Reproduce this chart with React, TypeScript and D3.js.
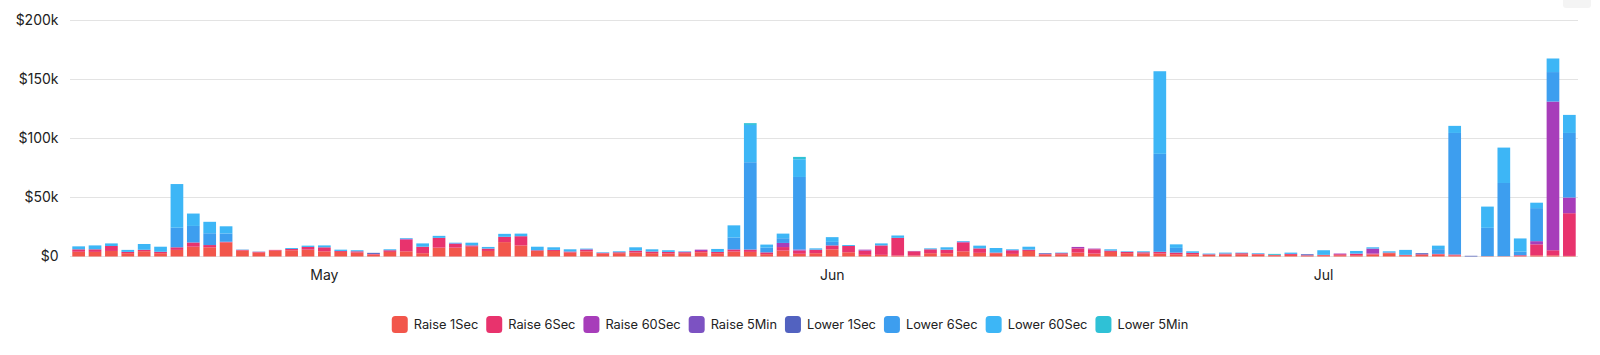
import React from "react";
import * as d3 from "d3";

const startDate = "2023-04-16";
const dayCount = 92;

const seriesNames = ["Raise 1Sec", "Raise 6Sec", "Raise 60Sec", "Raise 5Min", "Lower 1Sec", "Lower 6Sec", "Lower 60Sec", "Lower 5Min"];
const seriesColors = ["#F2564B", "#E8336D", "#A73DBA", "#7C52C2", "#5262C0", "#3D9EEF", "#3DB6F6", "#2FC1D6"];

// values in $k, one per day
const raise1Sec = [4, 3.9, 4.7, 2.8, 4.5, 2.8, 5.6, 8.3, 7.8, 11.9, 5, 3.3, 5, 5.3, 5.8, 4.4, 3.9, 3.3, 1.7, 3.9, 4.4, 2.8, 7.5, 7.5, 8.3, 4.7, 12.2, 9.4, 4.7, 4.7, 3.3, 4.4, 2.5, 2.8, 3.3, 2.8, 2.5, 2.8, 3.6, 2.8, 4.2, 3.9, 2, 5, 2.3, 2.8, 6.1, 3.6, 1.4, 1.4, 0.8, 0.8, 2.8, 2.8, 4.4, 3.1, 2.8, 2.2, 4.7, 1.7, 1.9, 3.3, 2.5, 3.9, 2.8, 2.5, 2.5, 1.9, 1.9, 1.4, 1.7, 1.9, 1.7, 1.1, 1.4, 0.8, 1.1, 1.1, 1.1, 1.7, 2.8, 1.1, 1.4, 1.7, 1, 0, 0.3, 0.3, 0.5, 1, 1, 0.5];
const raise6Sec = [2.1, 2.2, 4.2, 1.1, 1.2, 1.2, 2.2, 3.6, 1.9, 0.6, 0.6, 0.7, 0.6, 1.1, 2.3, 3.4, 0.8, 1.1, 0.5, 1.4, 10, 5.5, 8.3, 3.1, 1.1, 2, 4.5, 7.8, 0.6, 0.9, 0.9, 1.2, 0.6, 0.8, 1.7, 1.4, 1.4, 0.8, 1.1, 1.1, 1.4, 2, 1.5, 3, 2.7, 3, 3.3, 5.3, 3.6, 8, 15, 3.6, 3.3, 3, 7.5, 3.8, 0.5, 2.8, 1.1, 0.5, 0.9, 3.6, 3.6, 1.1, 1.1, 1.1, 1.5, 1.4, 1.2, 0.5, 0.8, 0.9, 0.5, 0.3, 0.8, 0.3, 0.3, 0.8, 1.1, 0.8, 0.5, 0.3, 0.5, 0.5, 0.7, 0, 0, 0, 0.6, 9.3, 4.3, 36.2];
const raise60Sec = [0, 0, 0, 0, 0, 0, 0, 0, 0, 0, 0, 0, 0, 0, 0, 0, 0, 0, 0, 0, 0.6, 0, 0, 0.5, 0, 0, 0, 0, 0, 0, 0, 0.5, 0, 0, 0, 0, 0, 0.4, 1.1, 0, 0.5, 0, 0, 3.5, 0.9, 0, 0, 0, 0.8, 0, 0, 0.3, 0, 0, 0.6, 0, 0, 0.5, 0, 0, 0, 1.2, 0.6, 0, 0, 0, 0, 0, 0, 0, 0, 0, 0, 0, 0, 0, 0, 0.6, 0.3, 4.2, 0, 0, 0, 0, 0, 0, 0, 0, 0, 2.7, 126, 13.3];
const raise5Min = [0, 0, 0, 0, 0, 0, 0, 0, 0, 0, 0, 0, 0, 0, 0, 0, 0, 0, 0, 0, 0, 0, 0, 0, 0, 0, 0, 0, 0, 0, 0, 0, 0, 0, 0, 0, 0, 0, 0, 0, 0, 0, 0, 0, 0, 0, 0, 0, 0, 0, 0, 0, 0, 0, 0, 0, 0, 0, 0, 0, 0, 0, 0, 0, 0, 0, 0, 0, 0, 0, 0, 0, 0, 0, 0, 0, 0, 0, 0, 0, 0, 0, 0, 0, 0, 0, 0, 0, 0, 0, 0, 0];
const lower1Sec = [0, 0, 0, 0, 0, 0, 0, 0, 0, 0, 0, 0, 0, 0, 0, 0, 0, 0, 0.9, 0, 0, 0, 0, 0, 0, 0, 0, 0, 0, 0, 0, 0, 0, 0, 0, 0, 0, 0, 0, 0, 0, 0, 0, 0, 0, 0, 0, 0, 0, 0, 0, 0, 0, 0, 0, 0, 0, 0, 0, 0.6, 0, 0, 0, 0, 0, 0, 0, 0, 0, 0, 0, 0, 0, 0, 0, 0.8, 0, 0, 0, 0, 0, 0, 0.9, 0, 0, 0.6, 0, 0, 0, 0, 0, 0];
const lower6Sec = [0, 0, 0, 0, 0, 0, 16.6, 14, 10, 7, 0, 0, 0, 0, 0, 0, 0, 0, 0, 0, 0, 0, 0, 0, 0, 0, 0, 0, 0, 0, 0, 0, 0, 0, 0, 0, 0, 0, 0, 0, 10, 74, 4, 4, 61.5, 0, 3, 0, 0, 0, 0, 0, 0, 0, 0, 0, 0, 0, 0, 0, 0, 0, 0, 0, 0, 0, 83, 4, 0, 0, 0, 0, 0, 0, 0, 0, 0, 0, 0, 0, 0, 0, 0, 4, 103, 0, 24, 62, 3, 28, 25, 54.7];
const lower60Sec = [2.5, 3.3, 2.2, 1.7, 4.9, 4.3, 37, 10.5, 9.7, 6.1, 0.3, 0.2, 0, 0.8, 1.1, 1.6, 1.1, 0.9, 0, 0.8, 0.6, 2.8, 1.7, 0.6, 2.3, 1.4, 2.5, 2.2, 3, 2.2, 1.9, 0.6, 0.5, 0.8, 2.8, 1.9, 1.4, 0.4, 0, 2.5, 10.3, 31.6, 2.6, 3.9, 15, 1.1, 4, 0.8, 0, 1.7, 2, 0, 0.8, 2, 0.6, 2.3, 3.9, 0.6, 2.5, 0, 0.5, 0, 0, 1.1, 0.5, 0.8, 70, 3, 1.3, 0.6, 0.8, 0.5, 0.6, 0, 1.1, 0, 3.9, 0, 2.2, 1.1, 1.1, 4.2, 0, 3, 6, 0, 18, 30, 11.2, 4.6, 11.5, 15.3];
const lower5Min = [0, 0, 0, 0, 0, 0, 0, 0, 0, 0, 0, 0, 0, 0, 0, 0, 0, 0, 0, 0, 0, 0, 0, 0, 0, 0, 0, 0, 0, 0, 0, 0, 0, 0, 0, 0, 0, 0, 0, 0, 0, 1.5, 0, 0, 2, 0, 0, 0, 0, 0, 0, 0, 0, 0, 0, 0, 0, 0, 0, 0, 0, 0, 0, 0, 0, 0, 0, 0, 0, 0, 0, 0, 0, 0.8, 0, 0, 0, 0, 0, 0, 0, 0, 0, 0, 0, 0, 0, 0, 0, 0, 0, 0];

const yTicks = [0, 50000, 100000, 150000, 200000];
const monthTicks = ["2023-05-01", "2023-06-01", "2023-07-01"];

const seriesValues = [raise1Sec, raise6Sec, raise60Sec, raise5Min, lower1Sec, lower6Sec, lower60Sec, lower5Min];

const FONT = "Inter, 'Noto Sans', sans-serif";
const LEGEND_FS = 12.8;

export default function App() {
  const parse = d3.utcParse("%Y-%m-%d");
  const fmt = d3.utcFormat("%Y-%m-%d");
  const days = d3.utcDay.range(parse(startDate)!, d3.utcDay.offset(parse(startDate)!, dayCount)).map(fmt);

  const rows = days.map((d, i) => {
    const r: any = { date: d };
    seriesNames.forEach((n, j) => (r[n] = seriesValues[j][i] * 1000));
    return r;
  });
  const stacked = d3.stack().keys(seriesNames)(rows);

  const x = d3.scaleBand<string>().domain(days).range([70, 1578]).paddingInner(0.225).paddingOuter(0.14);
  const y = d3.scaleLinear().domain([0, 200000]).range([256.5, 20.5]);

  const tickFmt = (v: number) => (v === 0 ? "$0" : `$${v / 1000}k`);

  const canvas = typeof document !== "undefined" ? document.createElement("canvas") : null;
  const ctx = canvas ? canvas.getContext("2d") : null;
  if (ctx) ctx.font = `${LEGEND_FS}px ${FONT}`;
  const sw = 16, gapSwText = 6, gapItem = 8;
  const widths = seriesNames.map((n) => sw + gapSwText + (ctx ? ctx.measureText(n).width : n.length * 7) + gapItem);
  const total = d3.sum(widths) - gapItem;
  let lx = 790 - total / 2;
  const legendItems = seriesNames.map((n, i) => {
    const item = { name: n, color: seriesColors[i], x: lx };
    lx += widths[i];
    return item;
  });
  const ly = 324.5;

  return (
    <svg width={1600} height={355} style={{ position: "absolute", left: 0, top: 0, fontFamily: FONT }}>
      <rect x={1563} y={-4} width={28} height={12} rx={3} fill="#f4f4f4" />
      {yTicks.map((t) => (
        <g key={t}>
          <line x1={70} x2={1578} y1={y(t)} y2={y(t)} stroke="#e3e3e3" strokeWidth={1} />
          <text x={58.5} y={y(t)} dy="0.35em" textAnchor="end" fontSize={14} fill="#222">
            {tickFmt(t)}
          </text>
        </g>
      ))}
      {stacked.map((layer, li) => (
        <g key={layer.key} fill={seriesColors[li]}>
          {layer.map((seg, i) => {
            const h = y(seg[0]) - y(seg[1]);
            if (h <= 0) return null;
            return <rect key={i} x={x(days[i])} y={y(seg[1])} width={x.bandwidth()} height={h} />;
          })}
        </g>
      ))}
      {monthTicks.map((m) => (
        <text key={m} x={(x(m) ?? 0) + x.bandwidth() / 2} y={280} textAnchor="middle" fontSize={14} fill="#222">
          {d3.utcFormat("%b")(parse(m)!)}
        </text>
      ))}
      {legendItems.map((it) => (
        <g key={it.name}>
          <rect x={it.x} y={ly - 8.5} width={sw} height={17} rx={3.5} fill={it.color} />
          <text x={it.x + sw + gapSwText} y={ly} dy="0.35em" fontSize={LEGEND_FS} fill="#222">
            {it.name}
          </text>
        </g>
      ))}
    </svg>
  );
}
